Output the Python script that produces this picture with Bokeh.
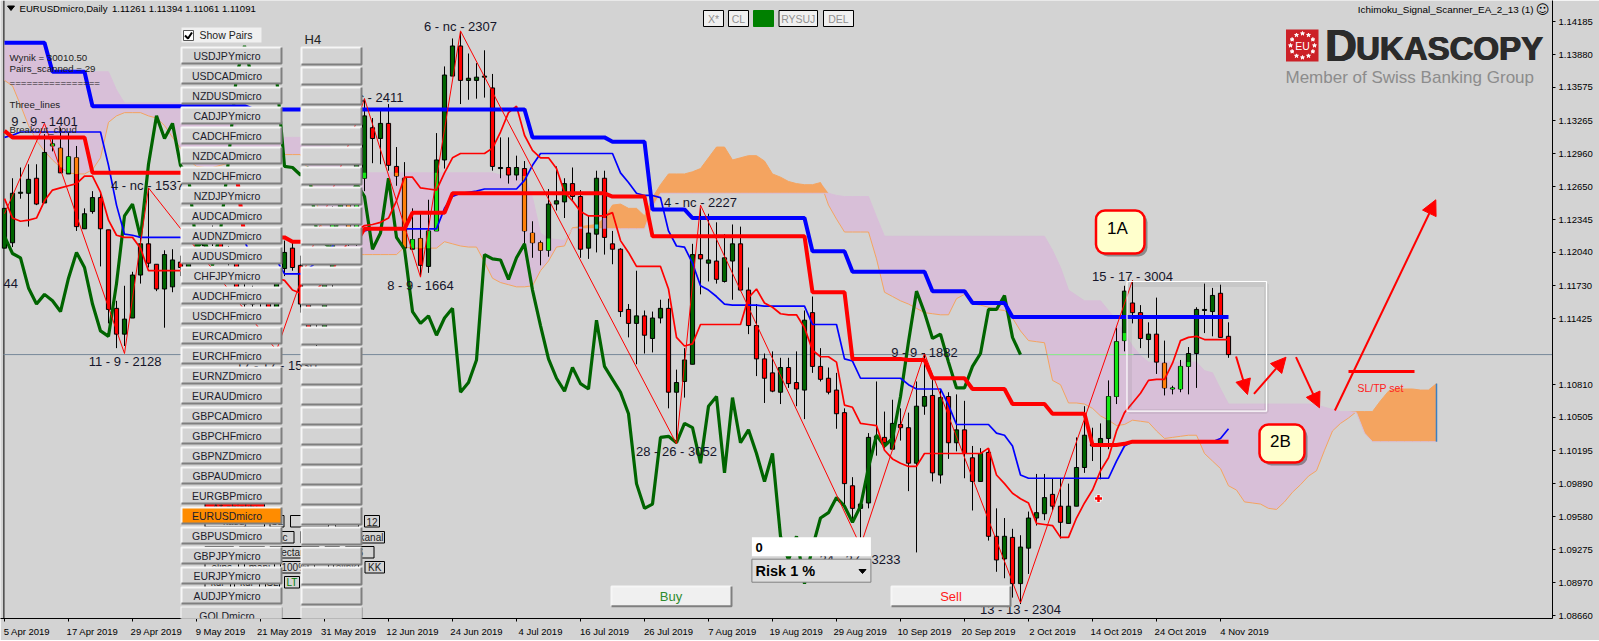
import numpy as np
from bokeh.core.properties import value
from bokeh.embed import file_html
from bokeh.models import (Arrow, BoxAnnotation, FixedTicker, Label, NormalHead,
                          NumeralTickFormatter, Range1d)
from bokeh.plotting import figure
from bokeh.resources import INLINE

# ---------------- data (prices in pips, 1e-4) ----------------
opens = [11208,11213,11259,11259,11273,11250,11303,11301,11277,11292,
 11226,11242,11255,11225,11152,11128,11143,11183,11212,11193,
 11170,11172,11195,11190,11198,11210,11217,11219,11203,11199,
 11171,11156,11165,11159,11149,11189,11208,11192,11156,11131,
 11126,11175,11238,11249,11218,11273,11320,11310,11324,11284,
 11273,11207,11217,11191,11224,11290,11368,11396,11364,11364,
 11367,11357,11282,11283,11276,11282,11222,11213,11206,11249,
 11251,11268,11256,11208,11221,11273,11212,11207,11151,11138,
 11145,11124,11143,11152,11074,11084,11100,11202,11194,11196,
 11177,11196,11212,11169,11136,11105,11092,11074,11097,11083,
 11076,11148,11098,11087,11076,11055,10987,10966,10971,11031,
 11032,11021,11044,11041,11008,11061,11071,10997,11070,11027,
 11039,11013,10991,11018,10940,10919,10939,10896,10929,10957,
 10961,10979,10968,10952,10968,11004,11026,11026,11031,11070,
 11122,11157,11148,11123,11128,11101,11077,11077,11098,11110,
 11150,11149,11166,11126]
closes = [11245,11259,11260,11272,11249,11297,11305,11278,11293,11228,
 11240,11255,11226,11151,11128,11142,11183,11212,11194,11170,
 11202,11197,11190,11198,11210,11217,11219,11203,11199,11171,
 11156,11165,11159,11149,11180,11204,11190,11156,11131,11126,
 11175,11238,11249,11218,11286,11331,11310,11324,11285,11275,
 11208,11216,11192,11224,11290,11369,11396,11364,11366,11367,
 11368,11284,11283,11276,11283,11224,11213,11206,11249,11252,
 11268,11256,11207,11222,11273,11218,11207,11149,11138,11145,
 11127,11143,11152,11074,11083,11104,11202,11198,11197,11179,
 11199,11212,11169,11136,11105,11087,11075,11097,11082,11077,
 11141,11098,11086,11074,11054,10989,10966,10970,11032,11033,
 11027,11045,11041,11008,11061,11070,10999,11069,11027,11039,
 11017,10991,11017,10940,10918,10940,10896,10930,10957,10962,
 10976,10968,10953,10968,11004,11034,11024,11031,11070,11121,
 11168,11148,11124,11128,11102,11078,11078,11098,11110,11151,
 11151,11164,11125,11109]
highs = [11245,11273,11283,11286,11286,11314,11312,11320,11315,11303,
 11245,11261,11261,11225,11159,11173,11186,11218,11264,11193,
 11206,11207,11201,11206,11215,11224,11229,11226,11210,11206,
 11176,11173,11170,11166,11187,11215,11215,11201,11164,11140,
 11182,11247,11261,11257,11299,11347,11329,11336,11342,11302,
 11288,11245,11241,11253,11315,11377,11403,11410,11389,11380,
 11392,11370,11311,11311,11294,11289,11233,11215,11263,11284,
 11273,11283,11262,11238,11280,11280,11224,11208,11156,11187,
 11150,11149,11160,11161,11095,11115,11212,11245,11240,11232,
 11221,11230,11228,11190,11156,11110,11112,11106,11106,11112,
 11150,11163,11115,11097,11092,11059,10995,10973,11036,11084,
 11056,11067,11059,11055,11084,11110,11087,11077,11074,11072,
 11066,11024,11022,11022,10966,10957,10947,10941,10963,10998,
 10998,10994,10994,10989,11032,11061,11041,11045,11085,11134,
 11173,11178,11155,11139,11162,11122,11080,11104,11116,11153,
 11175,11171,11174,11139]
lows = [11208,11209,11254,11228,11248,11250,11298,11278,11277,11224,
 11226,11240,11191,11138,11115,11117,11143,11175,11190,11168,
 11134,11167,11182,11187,11194,11206,11210,11198,11192,11166,
 11150,11148,11152,11144,11142,11182,11187,11148,11122,11117,
 11122,11168,11232,11210,11210,11261,11287,11286,11280,11266,
 11199,11207,11182,11185,11224,11282,11368,11342,11346,11347,
 11348,11280,11273,11268,11271,11212,11199,11192,11200,11243,
 11236,11252,11199,11198,11204,11202,11193,11144,11125,11100,
 11110,11111,11138,11059,11026,11069,11100,11165,11177,11175,
 11176,11160,11168,11128,11089,11064,11074,11063,11078,11061,
 11049,11092,11084,11072,11040,10970,10954,10938,10966,11015,
 11022,11021,11029,10982,10925,11053,10991,10989,11012,11019,
 10994,10964,10991,10936,10907,10901,10883,10877,10905,10950,
 10955,10964,10938,10952,10968,10999,11010,10993,11021,11063,
 11112,11138,11115,11106,11091,11071,11072,11074,11072,11078,
 11129,11126,11125,11106]
span_a = [11364,11359,11341,11322,11308,11298,11290,11283,11278,11277,
 11277,11281,11292,11325,11331,11334,11334,11334,11331,11329,
 11322,11311,11301,11290,11284,11283,11283,11285,11287,11290,
 11291,11292,11293,11294,11294,11295,11295,11295,11280,11252,
 11215,11202,11202,11202,11202,11202,11202,11202,11202,11202,
 11209,11208,11208,11208,11208,11214,11212,11210,11209,11209,
 11195,11180,11176,11174,11172,11172,11173,11187,11196,11209,
 11210,11227,11228,11229,11230,11236,11248,11249,11245,11245,
 11238,11255,11267,11277,11277,11277,11279,11282,11292,11302,
 11302,11290,11292,11294,11294,11289,11277,11274,11270,11268,
 11267,11267,11269,11248,11235,11223,11223,11223,11223,11198,
 11167,11163,11159,11156,11152,11148,11147,11146,11146,11161,
 11165,11156,11155,11153,11151,11150,11143,11131,11122,11121,
 11120,11085,11081,11064,11064,11063,11059,11052,11048,11043,
 11044,11048,11047,11046,11038,11031,11032,11033,11034,11034,
 11017,11010,11003,10987,10983,10972,10971,10970,10966,10965,
 10972,10981,10988,10996,11001,11020,11038,11045,11050,11056,
 11056,11056,11066,11075,11077,11077,11077,11076,11076,11082]
span_b = ([11399]*6 + [11372]*8 + [11355] + [11343]*14 + [11320]*4 + [11311]*8 +
 [11299,11285] + [11278]*19 + [11276] + [11275]*3 + [11255,11222,11217,11216,11215] +
 [11226]*10 + [11246] + [11259]*22 + [11257] + [11256]*4 + [11237] + [11219]*21 +
 [11206,11190,11169,11164] + [11159]*3 + [11150,11141,11129,11117,11108] + [11102]*7 +
 [11094,11092,11077] + [11063]*11 + [11062,11060,11058] + [11056]*2 + [11055,11036] + [11028]*9)
blue_thick = ([11399]*6 + [11372]*5 + [11340]*20 + [11337]*35 + [11311]*10 + [11307]*5 +
 [11244]*5 + [11236]*15 + [11205]*5 + [11186]*10 + [11168]*5 + [11157]*5 + [11144]*28)
red_thick = ([11317] + [11311]*10 + [11278]*19 + [11218]*6 + [11214]*9 + [11226]*6 + [11241]*5 +
 [11259]*20 + [11256]*5 + [11219]*20 + [11167]*5 + [11105]*7 + [11104]*3 + [11087]*5 + [11077]*5 +
 [11063]*5 + [11054]*5 + [11025]*4 + [11026] + [11028]*13)
blue_thin = ([11311,11313] + [11316]*11 + [11285,11248,11221,11220] + [11218]*6 + [11215]*8 +
 [11197]*4 + [11184]*3 + [11189,11195,11201,11210,11217,11220,11223,11224] + [11226]*9 +
 [11245,11256,11259,11260,11261] + [11263]*5 + [11271,11285] + [11296]*10 +
 [11278,11269,11259,11257,11257,11255,11224,11210,11209,11194,11173,11169,11163,11156] +
 [11155]*4 + [11154]*6 + [11137]*4 + [11105,11103] + [11087]*6 + [11081] + [11077]*4 + [11062] +
 [11044]*5 + [11036,11034,11024,10997] + [10994]*11 + [11010,11024] + [11028]*11 + [11031,11040])
red_thin = [11254,11236,11233,11234,11236,11252,11262,11264,11266,11268,
 11275,11275,11260,11234,11220,11218,11218,11208,11187,11187,
 11187,11187,11187,11187,11187,11185,11183,11183,11183,11180,
 11180,11183,11183,11183,11180,11178,11169,11166,11166,11169,
 11178,11187,11201,11215,11224,11229,11230,11232,11236,11252,
 11274,11274,11264,11263,11262,11278,11292,11296,11296,11296,
 11296,11301,11316,11334,11340,11313,11299,11292,11292,11282,
 11260,11252,11242,11238,11238,11238,11241,11215,11204,11191,
 11191,11191,11191,11170,11125,11117,11119,11137,11137,11137,
 11137,11137,11137,11162,11170,11157,11153,11147,11146,11146,
 11134,11113,11107,11107,11102,11062,11060,11045,11044,11043,
 11020,11012,11008,11005,11005,11017,11017,11017,11017,11017,
 11017,11017,11017,11022,10997,10989,10980,10975,10971,10952,
 10951,10950,10939,10939,10957,10971,10983,11001,11013,11038,
 11055,11064,11073,11085,11086,11086,11101,11122,11125,11126,
 11123,11123,11123,11123]
zig_idx = [0,5,15,18,34,45,52,57,84,87,107,115,127,141]
zig_val = [11240,11324,11110,11264,11113,11347,11181,11410,11026,11248,10931,11110,10878,11178]
price_ticks = [1.14185,1.13880,1.13575,1.13265,1.12960,1.12650,1.12345,1.12040,1.11730,1.11425,
               1.10810,1.10505,1.10195,1.09890,1.09580,1.09275,1.08970,1.08660]
date_ticks = ["5 Apr 2019","17 Apr 2019","29 Apr 2019","9 May 2019","21 May 2019","31 May 2019",
              "12 Jun 2019","24 Jun 2019","4 Jul 2019","16 Jul 2019","26 Jul 2019","7 Aug 2019",
              "19 Aug 2019","29 Aug 2019","10 Sep 2019","20 Sep 2019","2 Oct 2019","14 Oct 2019",
              "24 Oct 2019","4 Nov 2019"]
date_idx = [0,8,16,24,32,40,48,56,64,72,80,88,96,104,112,120,128,136,144,152]
pairs = ["USDJPYmicro","USDCADmicro","NZDUSDmicro","CADJPYmicro","CADCHFmicro","NZDCADmicro",
         "NZDCHFmicro","NZDJPYmicro","AUDCADmicro","AUDNZDmicro","AUDUSDmicro","CHFJPYmicro",
         "AUDCHFmicro","USDCHFmicro","EURCADmicro","EURCHFmicro","EURNZDmicro","EURAUDmicro",
         "GBPCADmicro","GBPCHFmicro","GBPNZDmicro","GBPAUDmicro","EURGBPmicro","EURUSDmicro",
         "GBPUSDmicro","GBPJPYmicro","EURJPYmicro","AUDJPYmicro","GOLDmicro"]

# ---------------- helpers for fixed UI elements, in window pixels ----------------
BG = "#d3d3d3"
FONT = "Liberation Sans"
def X(px): return (px - 4) / 8
def Y(py): return 1.14383 - 0.000093 * py

o, h, l, c = [np.array(v) / 1e4 for v in (opens, highs, lows, closes)]
a, b = np.array(span_a) / 1e4, np.array(span_b) / 1e4
idx = np.arange(len(o))
idx_k = np.arange(len(a))

p = figure(frame_width=1552, frame_height=618, output_backend="svg", toolbar_location=None,
           x_range=Range1d(X(0), X(1552)), y_range=Range1d(Y(618), Y(0)),
           y_axis_location="right", min_border_left=0, min_border_top=0,
           min_border_right=47, min_border_bottom=22,
           background_fill_color=BG, border_fill_color=BG, outline_line_color=None)
p.grid.visible = False

label_pos = [float(t) + 3.0 for t in date_idx]
label_pos[0] = 2.8
p.xaxis.ticker = FixedTicker(ticks=label_pos, minor_ticks=date_idx)
p.xaxis.major_label_overrides = dict(zip(label_pos, date_ticks))
p.xaxis.major_tick_out = 0
p.xaxis.major_tick_in = 0
p.xaxis.minor_tick_out = 3
p.xaxis.minor_tick_in = 0
p.xaxis.major_label_standoff = 4
p.yaxis.ticker = FixedTicker(ticks=price_ticks)
p.yaxis.formatter = NumeralTickFormatter(format="0.00000")
p.yaxis.major_tick_out = 3
p.yaxis.major_tick_in = 0
p.yaxis.minor_tick_out = 0
p.yaxis.minor_tick_in = 0
p.yaxis.major_label_standoff = 3
for ax in (p.xaxis[0], p.yaxis[0]):
    ax.axis_line_color = "black"
    ax.major_tick_line_color = "black"
    ax.minor_tick_line_color = "black"
    ax.major_label_text_font = FONT
    ax.major_label_text_font_size = "9.5px"
    ax.major_label_text_color = "black"


def txt(px, py, s, size, color="black", align="center", style="normal", baseline="middle", font=FONT):
    p.text(x=[X(px)], y=[Y(py)], text=[s], text_font=value(font), text_font_size=f"{size}px",
           text_color=color, text_align=align, text_baseline=baseline, text_font_style=style)


def box(x0, x1, y0, y1, fill=BG, line="black", lw=1):
    p.quad(left=[X(x0)], right=[X(x1)], top=[Y(y0)], bottom=[Y(y1)], fill_color=fill,
           line_color=line, line_width=lw)


def button(x0, x1, y0, y1, fill=BG):
    p.quad(left=[X(x0)], right=[X(x1)], top=[Y(y0)], bottom=[Y(y1)], fill_color=fill, line_color=None)
    p.multi_line(xs=[[X(x0), X(x0), X(x1)]], ys=[[Y(y1), Y(y0), Y(y0)]], line_color="#f6f6f6", line_width=2)
    p.multi_line(xs=[[X(x0), X(x1), X(x1)]], ys=[[Y(y1), Y(y1), Y(y0)]], line_color="#7f7f7f", line_width=2)


def over_button(x0, x1, y0, y1):
    # a button that lies over the axis, outside the frame
    for dx0, dx1, dy0, dy1, col in ((0, 1, 0, 1, "#7f7f7f"), (-1, 0, -1, 0, "#f6f6f6"), (0, 0, 0, 0, BG)):
        p.add_layout(BoxAnnotation(left=X(x0 + dx0), right=X(x1 + dx1), top=Y(y0 + dy0), bottom=Y(y1 + dy1),
                                   fill_color=col, fill_alpha=1, line_color=None))


# ---------------- left border ----------------
p.line([X(3.4), X(3.4)], [Y(0), Y(618)], line_color="black", line_width=1)

# ---------------- cloud ----------------
top_k = np.maximum(a, b)
p.varea(x=idx_k, y1=a, y2=top_k, fill_color="#d8bfd8")
p.varea(x=idx_k, y1=b, y2=top_k, fill_color="#f4a460")
p.line(idx_k, a, line_color="#f4a460", line_width=1)
p.line(idx_k, b, line_color="#d8bfd8", line_width=1)
p.line([idx_k[-1], idx_k[-1]], [a[-1], b[-1]], line_color="#3a7fc1", line_width=1.5)

# ---------------- current price line ----------------
p.line([X(3), X(1552)], [c[-1], c[-1]], line_color="#778899", line_width=1)
p.line([X(1047), X(1133)], [c[-1], c[-1]], line_color="#90ee90", line_width=1)

# ---------------- candles ----------------
p.segment(idx, h, idx, l, line_color="black", line_width=1)
up = c >= o
body_top, body_bot = np.maximum(o, c), np.minimum(o, c)
p.vbar(x=idx[up], top=body_top[up], bottom=body_bot[up], width=0.52, fill_color="#006400", line_color="black")
p.vbar(x=idx[~up], top=body_top[~up], bottom=body_bot[~up], width=0.52, fill_color="#ff0000", line_color="black")
n = len(o)
k_hi, k_lo = np.maximum(a[:n], b[:n]), np.minimum(a[:n], b[:n])
ov_top, ov_bot = np.minimum(body_top, k_hi), np.maximum(body_bot, k_lo)
inside = ov_top > ov_bot
pink = b[:n] > a[:n]
for mask, col in ((inside & up & pink, "#14e614"), (inside & ~up & pink, "#ff7f0a"),
                  (inside & up & ~pink, "#20d0c0"), (inside & ~up & ~pink, "#c080c0")):
    p.vbar(x=idx[mask], top=ov_top[mask], bottom=ov_bot[mask], width=0.42, fill_color=col, line_color=None)

# ---------------- indicator lines ----------------
p.line(idx[:len(c) - 26], c[26:], line_color="#006400", line_width=3.2)
p.line(idx, np.array(blue_thin) / 1e4, line_color="#0000ff", line_width=1.7)
p.line(idx, np.array(red_thin) / 1e4, line_color="#ff0000", line_width=1.7)
p.line(idx, np.array(blue_thick) / 1e4, line_color="#0000ff", line_width=4)
p.line(idx, np.array(red_thick) / 1e4, line_color="#ff0000", line_width=4)
p.line(zig_idx, np.array(zig_val) / 1e4, line_color="#ff0000", line_width=1)

# ---------------- wave labels ----------------
for px, py, s, al in [(44, 121, "9 - 9 - 1401", "center"), (147, 185, "4 - nc - 1537", "center"),
                      (17.5, 283, "44", "right"), (124.6, 361, "11 - 9 - 2128", "center"),
                      (276, 365, "17 - 17 - 1530", "center"), (403, 97, "6 - nc - 2411", "right"),
                      (460, 26, "6 - nc - 2307", "center"), (420, 285, "8 - 9 - 1664", "center"),
                      (700, 202, "4 - nc - 2227", "center"), (676, 451, "28 - 26 - 3052", "center"),
                      (924, 352, "9 - 9 - 1882", "center"), (900, 559, "24 - 27 - 3233", "right"),
                      (1020, 609, "13 - 13 - 2304", "center"), (1132, 276, "15 - 17 - 3004", "center")]:
    txt(px, py, s, 13, "#15152a", al)

# ---------------- white selection rectangle, SL/TP ----------------
p.quad(left=[X(1129)], right=[X(1266)], top=[Y(284)], bottom=[Y(411)], fill_color=None,
       line_color="#777777", line_alpha=0.12, line_width=5)
p.quad(left=[X(1126.5)], right=[X(1266)], top=[Y(281)], bottom=[Y(410.7)], fill_color=None,
       line_color="white", line_width=1.2)
p.line([X(1348), X(1414)], [Y(371), Y(371)], line_color="#ff0000", line_width=3)
txt(1380, 387, "SL/TP set", 10.5, "#ff2020")
p.scatter([X(1098)], [Y(498)], marker="cross", size=8, line_color="white", line_width=4)
p.scatter([X(1098)], [Y(498)], marker="cross", size=7, line_color="#ff0000", line_width=2.5)

# ---------------- corner texts ----------------
p.patch([X(7), X(14), X(10.5)], [Y(5.5), Y(5.5), Y(10)], fill_color="black", line_color="black")
txt(19, 7.5, "EURUSDmicro,Daily", 9.6, "black", "left")
txt(111.5, 7.5, "1.11261 1.11394 1.11061 1.11091", 9.6, "black", "left")
txt(1533, 9, "Ichimoku_Signal_Scanner_EA_2_13 (1)", 9.9, "black", "right")
txt(1542, 9, "\u263a", 13, "black", "center", font="DejaVu Sans")
for py, s in [(57, "Wynik = 30010.50"), (68, "Pairs_scanned = 29"), (82, "================"),
              (104, "Three_lines"), (129, "Breakout_cloud")]:
    txt(9, py, s, 9.7, "#222222", "left")

# ---------------- logo ----------------
box(1285.5, 1318, 29, 61, "#cc2027", None)
ang = np.arange(12) * np.pi / 6
p.scatter(X(1302) + 12 * np.cos(ang) / 8, Y(45) + 12 * np.sin(ang) * 0.000093, marker="star",
          size=4, fill_color="white", line_color="white")
txt(1302, 45.5, "EU", 10.5, "white")
for dx in (0, 0.6, 1.2):
    txt(1324 + dx, 45, "D", 44, "#2b2b2b", "left", "bold")
    txt(1355 + dx, 48, "UKASCOPY", 33, "#2b2b2b", "left", "bold")
txt(1285, 77, "Member of Swiss Banking Group", 17, "#8c8c8c", "left")

# ---------------- top buttons ----------------
for x0, x1, s in [(703, 723, "X*"), (728, 748, "CL"), (753, 773, ""), (778.5, 817, "RYSUJ"), (823, 853, "DEL")]:
    box(x0, x1, 10, 26, "#008000" if not s else "#f0f0f0", "#008000" if not s else "black")
    if s:
        txt((x0 + x1) / 2, 18.5, s, 10.5, "#909090")

# ---------------- small object buttons behind the pair list ----------------
box(204.5, 264, 502, 514, "#ff0000")
txt(234, 508, "A* obiekty", 10, "#222222")
for row_y, row in [(515, [(204.5, 264, "kasuj"), (269.5, 283.5, "SL"), (290, 328, "LT"), (335, 358, ""), (364, 379, "12")]),
                   (531, [(270, 293.5, "oc"), (300, 355, ""), (358, 384, "kanal")]),
                   (546, [(204.5, 233, ""), (239, 264, ""), (269.5, 318.5, "rectang"), (324.5, 339, ""), (345, 373.5, "S")]),
                   (561, [(204.5, 238, "elips"), (244, 274, "mani"), (280, 307.5, "100%"), (314, 328, ""), (333, 358, "elink"), (364.5, 384, "KK")]),
                   (576, [(204.5, 230, "kur"), (234, 259, "kur"), (265, 279, "SL"), (284, 299, "LT")])]:
    for x0, x1, s in row:
        box(x0, x1, row_y, row_y + 11.5)
        if s:
            col = "#008000" if (s == "LT" and row_y == 576) else "#222222"
            txt((x0 + x1) / 2, row_y + 6, s, 10, col)

# ---------------- pair list ----------------
box(181, 261, 27, 42, "#f0f0f0", None)
box(183, 193, 30, 40, "white", "#555555")
p.line([X(184.5), X(187.5), X(191.5)], [Y(35), Y(38), Y(32)], line_color="black", line_width=2)
txt(199, 34.5, "Show Pairs", 10.5, "#222222", "left")
txt(304, 38.5, "H4", 13, "#222222", "left")
for k, name in enumerate(pairs[:-1]):
    y0 = 47 + 20 * k
    button(181, 281, y0, y0 + 16, "#ff8c00" if name == "EURUSDmicro" else BG)
    button(301, 361, y0, y0 + 17)
    txt(226.5, y0 + 8, name, 10.5, "#1c1c2c")
y_last = 47 + 20 * (len(pairs) - 1)
over_button(181, 281, y_last, y_last + 16)
over_button(301, 361, y_last, y_last + 17)
p.add_layout(Label(x=X(226.5), y=Y(y_last + 8), text=pairs[-1], text_font=FONT, text_font_size="10.5px",
                   text_color="#1c1c2c", text_align="center", text_baseline="middle"))

# ---------------- order controls ----------------
box(751.4, 870.4, 536.7, 555.7, "white", None)
txt(755, 546.5, "0", 13, "black", "left", "bold")
box(751.4, 870.4, 558.7, 581.7, "#dedede", "#808080")
txt(755, 570.5, "Risk  1 %", 14.5, "black", "left", "bold")
p.patch([X(858.5), X(865.5), X(862)], [Y(569), Y(569), Y(573)], fill_color="black", line_color="black")
button(611, 731, 586, 605.7, "#f0f0f0")
txt(670.5, 596, "Buy", 13, "#2e8b2e")
button(891, 1010, 586, 605.7, "#f0f0f0")
txt(950.5, 596, "Sell", 13, "#ff1a1a")

# ---------------- callouts and arrows ----------------
for x0, x1, y0, y1, s, tx, ty in [(1095.5, 1144, 210, 253, "1A", 1117, 228), (1259, 1304, 424, 462, "2B", 1280, 441)]:
    p.add_layout(BoxAnnotation(left=X(x0 + 3), right=X(x1 + 3), top=Y(y0 + 3), bottom=Y(y1 + 3), fill_color="#333333",
                               fill_alpha=0.45, line_color=None, border_radius=9))
    p.add_layout(BoxAnnotation(left=X(x0), right=X(x1), top=Y(y0), bottom=Y(y1), fill_color="#ffffcc",
                               fill_alpha=1, line_color="#ff0000", line_alpha=1, line_width=2.5, border_radius=9))
    p.add_layout(Label(x=X(tx), y=Y(ty), text=s, text_font=FONT, text_font_size="17px", text_color="black",
                       text_align="center", text_baseline="middle"))
for x0, y0, x1, y1 in [(1235.6, 356, 1247, 394), (1253.5, 393.3, 1285.5, 356.7),
                       (1295.5, 356.7, 1319, 407.3), (1334.4, 410, 1435.3, 199.3)]:
    p.add_layout(Arrow(end=NormalHead(size=15, fill_color="#ff0000", line_color="#ff0000"),
                       x_start=X(x0), y_start=Y(y0), x_end=X(x1), y_end=Y(y1),
                       line_color="#ff0000", line_width=2))

# ---------------- current price tag ----------------
p.add_layout(Label(x=X(1554), y=c[-1], text="1.11091", text_font=FONT, text_font_size="9.5px",
                   text_color="white", text_align="left", text_baseline="middle",
                   background_fill_color="black", x_offset=1))

open("out.html", "w").write(file_html(p, INLINE))
